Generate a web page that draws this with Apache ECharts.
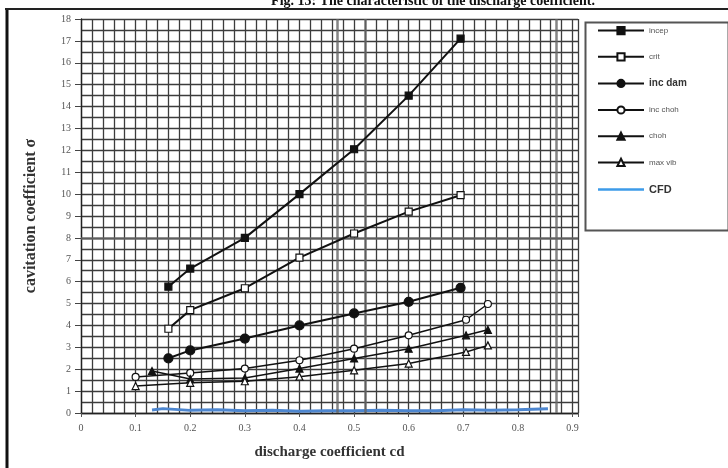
<!DOCTYPE html>
<html>
<head>
<meta charset="utf-8">
<script src="https://cdn.jsdelivr.net/npm/echarts@6/dist/echarts.min.js"></script>
<style>
  html, body { margin: 0; padding: 0; background: #fff; }
  #chart { width: 728px; height: 468px; }
</style>
</head>
<body>
<div id="chart"></div>
<script>
// Cavitation coefficient vs. discharge coefficient, one array per curve: [cd, sigma]
const incep = [[0.16, 5.77], [0.2, 6.6], [0.3, 8.0], [0.4, 10.0], [0.5, 12.05], [0.6, 14.5], [0.695, 17.1]];
const crit = [[0.16, 3.85], [0.2, 4.7], [0.3, 5.7], [0.4, 7.1], [0.5, 8.2], [0.6, 9.2], [0.695, 9.95]];
const incDam = [[0.16, 2.5], [0.2, 2.86], [0.3, 3.4], [0.4, 4.0], [0.5, 4.55], [0.6, 5.08], [0.695, 5.72]];
const incChoh = [[0.1, 1.65], [0.2, 1.83], [0.3, 2.03], [0.4, 2.41], [0.5, 2.94], [0.6, 3.55], [0.705, 4.26], [0.745, 4.98]];
const choh = [[0.13, 1.92], [0.2, 1.55], [0.3, 1.6], [0.4, 2.03], [0.5, 2.49], [0.6, 2.94], [0.705, 3.55], [0.745, 3.8]];
const maxVib = [[0.1, 1.23], [0.2, 1.38], [0.3, 1.45], [0.4, 1.66], [0.5, 1.95], [0.6, 2.26], [0.705, 2.79], [0.745, 3.09]];
const cfd = [[0.13, 0.14], [0.15, 0.2], [0.2, 0.12], [0.25, 0.15], [0.3, 0.1], [0.35, 0.13], [0.4, 0.08],
             [0.45, 0.1], [0.5, 0.1], [0.55, 0.12], [0.6, 0.1], [0.65, 0.1], [0.7, 0.15], [0.75, 0.12],
             [0.8, 0.15], [0.855, 0.19]];

const seriesNames = ['incep', 'crit', 'inc dam', 'inc choh', 'choh', 'max vib', 'CFD'];
const xTickLabels = ['0', '0.1', '0.2', '0.3', '0.4', '0.5', '0.6', '0.7', '0.8', '0.9'];
// heavier rules across the grid
const heavyX = [0.466, 0.52, 0.872];
const heavyY = [8];

const gridLine = { color: '#3c3c3c', width: 1.3 };
const serif = '"Liberation Serif", "DejaVu Serif", serif';
const sans = '"Liberation Sans", Arial, sans-serif';

function markerSeries(name, data, symbol, filled, size, lw) {
  return {
    name, type: 'line', data, symbol, symbolSize: size,
    lineStyle: { color: '#111', width: lw },
    itemStyle: { color: filled ? '#111' : '#fff', borderColor: '#111', borderWidth: 1.2 },
    z: 5
  };
}

// plain bar icon for the CFD legend entry
const flatLineIcon = 'path://M0,0h46v2.5h-46z';

const legendData = seriesNames.map(n => n === 'CFD' ? { name: n, icon: flatLineIcon } : n);

const chart = echarts.init(document.getElementById('chart'));
chart.setOption({
  animation: false,
  backgroundColor: '#fff',
  title: {
    text: 'Fig. 13: The characteristic of the discharge coefficient.',
    left: 428, top: -11, textAlign: 'center',
    textStyle: { fontFamily: serif, fontSize: 14, fontWeight: 'bold', color: '#111' }
  },
  grid: { left: 81, right: 150, top: 19, bottom: 55 },
  xAxis: {
    type: 'value', min: 0, max: 0.91, interval: 0.1,
    name: 'discharge coefficient cd', nameLocation: 'middle', nameGap: 32,
    nameTextStyle: { fontFamily: serif, fontSize: 15, fontWeight: 'bold', color: '#333' },
    axisLine: { lineStyle: { color: '#222', width: 1.3 } },
    axisTick: { show: true, length: 4, lineStyle: { color: '#555' } },
    axisLabel: {
      fontFamily: serif, fontSize: 10, color: '#555', margin: 10,
      formatter: v => {
        const i = Math.round(v * 10);
        return Math.abs(v * 10 - i) < 1e-6 && i < xTickLabels.length ? xTickLabels[i] : '';
      }
    },
    splitLine: { show: true, lineStyle: gridLine },
    minorTick: { show: true, splitNumber: 5, length: 0 },
    minorSplitLine: { show: true, lineStyle: gridLine }
  },
  yAxis: {
    type: 'value', min: 0, max: 18, interval: 1,
    name: 'cavitation coefficient σ', nameLocation: 'middle', nameGap: 42,
    nameTextStyle: { fontFamily: serif, fontSize: 16, fontWeight: 'bold', color: '#333' },
    axisLine: { show: true, lineStyle: { color: '#222', width: 1.3 } },
    axisTick: { show: true, length: 6, lineStyle: { color: '#444' } },
    axisLabel: { fontFamily: serif, fontSize: 10, color: '#555', margin: 10 },
    splitLine: { show: true, lineStyle: gridLine },
    minorTick: { show: true, splitNumber: 2, length: 0 },
    minorSplitLine: { show: true, lineStyle: gridLine }
  },
  legend: {
    data: legendData, orient: 'vertical', left: 592, top: 21,
    itemWidth: 46, itemHeight: 9, itemGap: 17,
    formatter: n => n === 'inc dam' ? '{b|' + n + '}' : n === 'CFD' ? '{c|' + n + '}' : '{a|' + n + '}',
    textStyle: {
      rich: {
        a: { fontFamily: sans, fontSize: 8, color: '#555' },
        b: { fontFamily: sans, fontSize: 10, fontWeight: 'bold', color: '#333' },
        c: { fontFamily: sans, fontSize: 11, fontWeight: 'bold', color: '#333' }
      }
    }
  },
  graphic: [
    { type: 'rect', left: 583, top: 20, shape: { width: 143, height: 208 },
      style: { fill: 'none', stroke: '#555', lineWidth: 2 }, z: 0 },
    { type: 'line', shape: { x1: 7, y1: 9, x2: 7, y2: 468 }, style: { stroke: '#111', lineWidth: 3 } },
    { type: 'line', shape: { x1: 5, y1: 9, x2: 728, y2: 9 }, style: { stroke: '#222', lineWidth: 2 } }
  ],
  series: [
    markerSeries('incep', incep, 'rect', true, 7, 2),
    markerSeries('crit', crit, 'rect', false, 7, 2),
    markerSeries('inc dam', incDam, 'circle', true, 9, 2),
    markerSeries('inc choh', incChoh, 'circle', false, 7, 1.5),
    markerSeries('choh', choh, 'triangle', true, 7, 1.5),
    markerSeries('max vib', maxVib, 'triangle', false, 7, 1.5),
    {
      name: 'CFD', type: 'line', data: cfd, showSymbol: false, symbol: 'none',
      lineStyle: { color: '#4d86cf', width: 3 }, itemStyle: { color: '#3d9be9' }, z: 4,
      markLine: {
        silent: true, symbol: 'none', label: { show: false },
        lineStyle: { color: '#666', width: 2.5, type: 'solid', opacity: 0.8 },
        data: heavyX.map(x => ({ xAxis: x })).concat(heavyY.map(y => ({ yAxis: y })))
      }
    }
  ]
});
</script>
</body>
</html>
